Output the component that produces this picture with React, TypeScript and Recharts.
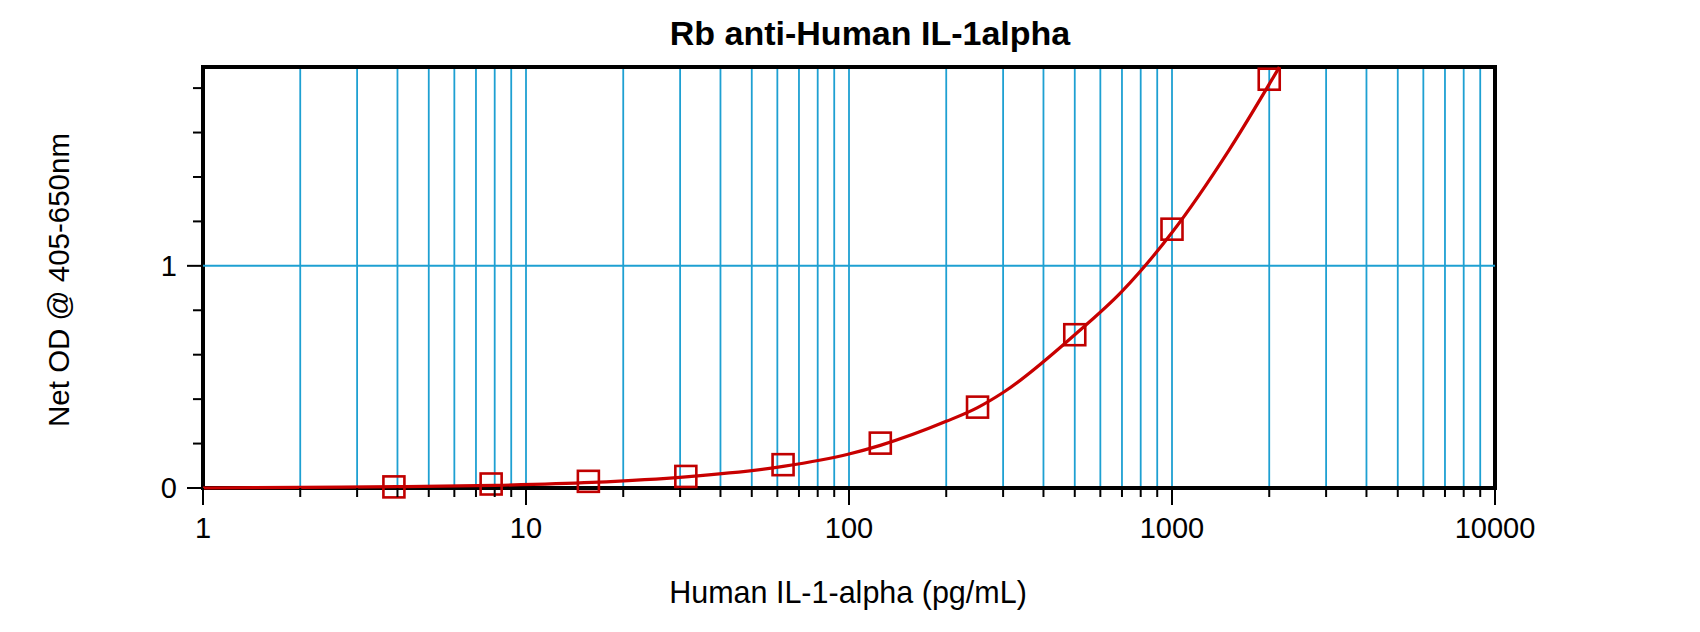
import React from "react";
import {
  ComposedChart,
  Line,
  Scatter,
  XAxis,
  YAxis,
  CartesianGrid,
  ReferenceLine,
  ReferenceArea,
} from "recharts";

// standards (serial dilution) and the fitted curve
const standardConc = [3.9, 7.8, 15.6, 31.25, 62.5, 125, 250, 500, 1000, 2000];
const standardOD = [0.005, 0.018, 0.03, 0.052, 0.105, 0.202, 0.364, 0.69, 1.165, 1.84];

const fitConc = [1, 2, 4, 8, 16, 31.25, 62.5, 100, 125, 200, 250, 300, 500, 700, 1000, 1500, 2150];
const fitOD = [0, 0.003, 0.006, 0.012, 0.025, 0.05, 0.097, 0.153, 0.192, 0.3, 0.362, 0.43, 0.69, 0.885, 1.15, 1.52, 1.895];

const xTicks = [
  1, 2, 3, 4, 5, 6, 7, 8, 9,
  10, 20, 30, 40, 50, 60, 70, 80, 90,
  100, 200, 300, 400, 500, 600, 700, 800, 900,
  1000, 2000, 3000, 4000, 5000, 6000, 7000, 8000, 9000,
  10000,
];
const xLabels = [1, 10, 100, 1000, 10000];
const yTicks = [0, 0.2, 0.4, 0.6, 0.8, 1, 1.2, 1.4, 1.6, 1.8];
const yLabels = [0, 1];
const yMax = 1.895;

const standards = standardConc.map((x, i) => ({ x, y: standardOD[i] }));
const fit = fitConc.map((x, i) => ({ x, y: fitOD[i] }));

const FONT = '"Liberation Sans", Arial, sans-serif';
const GRID = "#1ea0d2";
const RED = "#c80000";

function XTick({ x, y, payload }: any) {
  const major = xLabels.includes(payload.value);
  return (
    <g>
      <line x1={x} x2={x} y1={y} y2={y + (major ? 17 : 9)} stroke="#000" strokeWidth={2} />
      {major && (
        <text x={x} y={y + 50} textAnchor="middle" fontSize={29} fontFamily={FONT} fill="#000">
          {payload.value}
        </text>
      )}
    </g>
  );
}

function YTick({ x, y, payload }: any) {
  const major = yLabels.includes(payload.value);
  return (
    <g>
      <line x1={x - (major ? 16 : 10)} x2={x} y1={y} y2={y} stroke="#000" strokeWidth={2} />
      {major && (
        <text x={x - 26} y={y + 10} textAnchor="end" fontSize={29} fontFamily={FONT} fill="#000">
          {payload.value}
        </text>
      )}
    </g>
  );
}

function Square({ cx, cy }: any) {
  return <rect x={cx - 10.5} y={cy - 10.5} width={21} height={21} fill="none" stroke="#c00000" strokeWidth={2.6} />;
}

export default function App() {
  return (
    <div style={{ position: "absolute", left: 0, top: 0, width: 1700, height: 632, background: "#fff", fontFamily: FONT }}>
      <ComposedChart
        width={1700}
        height={632}
        margin={{ top: 67, right: 205, bottom: 64, left: 103 }}
      >
        <CartesianGrid horizontal={false} stroke={GRID} strokeWidth={1.8} />
        <XAxis
          dataKey="x"
          type="number"
          scale="log"
          domain={[1, 10000]}
          ticks={xTicks}
          interval={0}
          height={80}
          tickSize={0}
          tickMargin={0}
          tickLine={false}
          axisLine={false}
          tick={(p: any) => <XTick {...p} />}
        />
        <YAxis
          type="number"
          domain={[0, yMax]}
          ticks={yTicks}
          interval={0}
          width={100}
          tickSize={0}
          tickMargin={0}
          tickLine={false}
          axisLine={false}
          tick={(p: any) => <YTick {...p} />}
        />
        <ReferenceLine y={1} stroke={GRID} strokeWidth={2} />
        <ReferenceArea x1={1} x2={10000} y1={0} y2={yMax} fill="none" stroke="#000" strokeWidth={4} />
        <Line
          data={fit}
          dataKey="y"
          type="monotone"
          stroke={RED}
          strokeWidth={3.2}
          dot={false}
          activeDot={false}
          isAnimationActive={false}
        />
        <Scatter data={standards} dataKey="y" shape={(p: any) => <Square {...p} />} isAnimationActive={false} />
      </ComposedChart>

      <div
        style={{
          position: "absolute",
          left: 470,
          width: 800,
          top: 16,
          textAlign: "center",
          fontSize: 34,
          fontWeight: "bold",
          lineHeight: "34px",
          whiteSpace: "nowrap",
        }}
      >
        Rb anti-Human IL-1alpha
      </div>
      <div
        style={{
          position: "absolute",
          left: 448,
          width: 800,
          top: 577,
          textAlign: "center",
          fontSize: 30.5,
          lineHeight: "30.5px",
          whiteSpace: "nowrap",
        }}
      >
        Human IL-1-alpha (pg/mL)
      </div>
      <div
        style={{
          position: "absolute",
          left: 59,
          top: 280,
          fontSize: 29.5,
          lineHeight: "29.5px",
          whiteSpace: "nowrap",
          transform: "translate(-50%, -50%) rotate(-90deg)",
        }}
      >
        Net OD @ 405-650nm
      </div>
    </div>
  );
}
